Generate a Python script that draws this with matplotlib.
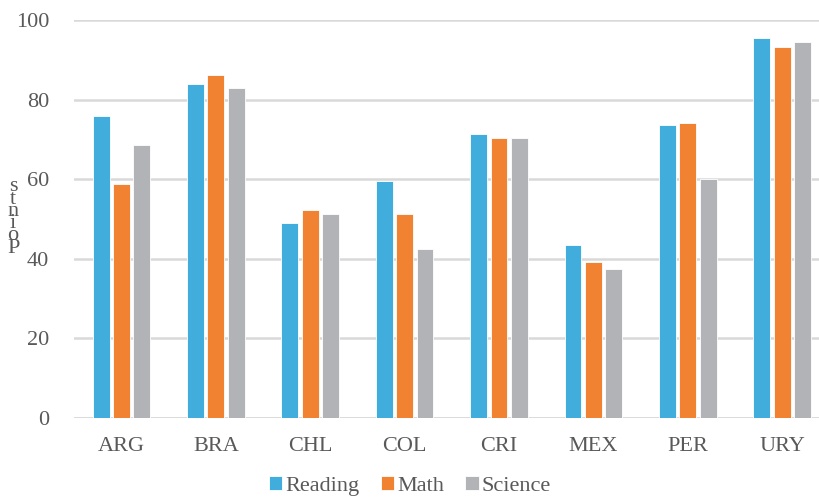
import numpy as np
import matplotlib
matplotlib.use("Agg")
import matplotlib.pyplot as plt

# ----------------------------------------
# Data
# ----------------------------------------
countries = ["ARG", "BRA", "CHL", "COL", "CRI", "MEX", "PER", "URY"]
reading = [75.9, 83.8, 49.0, 59.6, 71.3, 43.4, 73.6, 95.4]
math = [58.8, 86.1, 52.2, 51.3, 70.4, 39.2, 74.0, 93.1]
science = [68.5, 82.9, 51.3, 42.5, 70.4, 37.4, 60.1, 94.5]

series = [("Reading", reading, "#41ADDD"),
          ("Math", math, "#F08232"),
          ("Science", science, "#B2B3B7")]

TXT = "#595959"
plt.rcParams["font.family"] = ["Liberation Serif", "DejaVu Serif"]

fig = plt.figure(figsize=(8.19, 5.0), dpi=100)
# axes spans slightly past the right edge, like the original
ax = fig.add_axes([74.3 / 819, 82 / 500, 755 / 819, 398 / 500])

x = np.arange(len(countries))
width = 0.178
step = 0.216
for i, (name, vals, col) in enumerate(series):
    ax.bar(x + (i - 1) * step, vals, width, color=col, label=name,
           edgecolor="white", linewidth=0.6, zorder=3)

ax.set_xlim(-0.5, len(countries) - 0.5)
ax.set_ylim(0, 100)
ax.set_yticks(range(0, 101, 20))
ax.set_xticks(x)
ax.set_xticklabels(countries)
ax.grid(axis="y", color="#D9D9D9", linewidth=1.8, zorder=0)
ax.set_axisbelow(True)
for s in ax.spines.values():
    s.set_visible(False)
ax.axhline(0, color="#D9D9D9", linewidth=1.8, zorder=1)
ax.tick_params(axis="both", length=0, labelsize=16, labelcolor=TXT)
ax.tick_params(axis="y", pad=18)
ax.tick_params(axis="x", pad=14)

# stacked y label
fig.text(0.016, 0.565, "s\nt\nn\ni\no\nP", fontsize=16, color=TXT,
         ha="center", va="center", linespacing=0.52)

leg = fig.legend(loc="center", bbox_to_anchor=(410 / 819, 1 - 486 / 500),
                 ncol=3, frameon=False,
                 prop={"family": "Liberation Serif", "size": 16},
                 handlelength=0.6, handleheight=0.6, handletextpad=0.15,
                 columnspacing=0.95)
for t in leg.get_texts():
    t.set_color(TXT)

fig.savefig("out.png", dpi=100)
